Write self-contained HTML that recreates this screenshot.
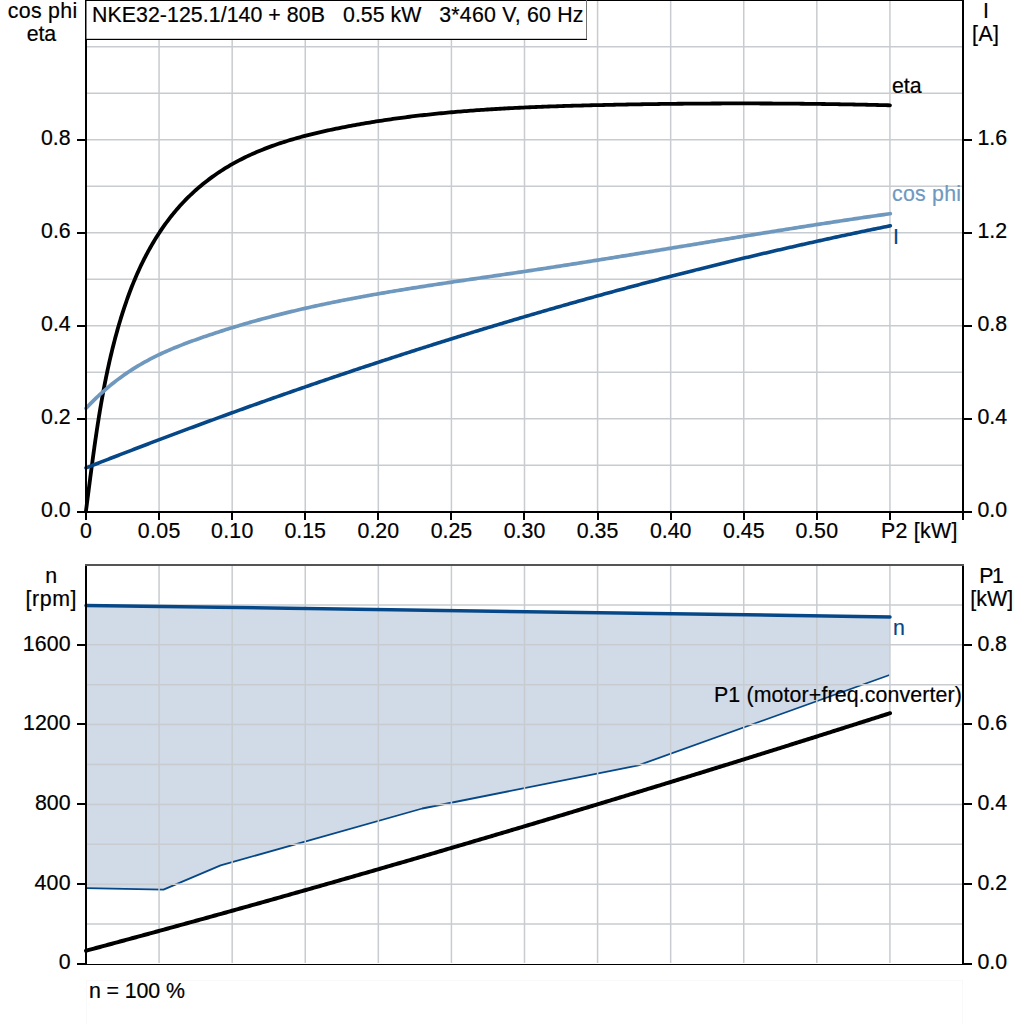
<!DOCTYPE html><html><head><meta charset="utf-8"><style>html,body{margin:0;padding:0;background:#fff;}svg{display:block;}text{font-family:"Liberation Sans",sans-serif;font-size:21.33px;}</style></head><body>
<svg width="1024" height="1024" viewBox="0 0 1024 1024">
<rect x="0" y="0" width="1024" height="1024" fill="#fff"/>
<rect x="86.5" y="980.5" width="876" height="50" fill="none" stroke="#f9f9f9" stroke-width="1"/>
<g stroke="#c8ccd0" stroke-width="1.5">
<line x1="159.08" y1="1" x2="159.08" y2="511"/>
<line x1="232.17" y1="1" x2="232.17" y2="511"/>
<line x1="305.25" y1="1" x2="305.25" y2="511"/>
<line x1="378.33" y1="1" x2="378.33" y2="511"/>
<line x1="451.42" y1="1" x2="451.42" y2="511"/>
<line x1="524.50" y1="1" x2="524.50" y2="511"/>
<line x1="597.58" y1="1" x2="597.58" y2="511"/>
<line x1="670.67" y1="1" x2="670.67" y2="511"/>
<line x1="743.75" y1="1" x2="743.75" y2="511"/>
<line x1="816.83" y1="1" x2="816.83" y2="511"/>
<line x1="889.92" y1="1" x2="889.92" y2="511"/>
<line x1="87" y1="465.25" x2="962" y2="465.25"/>
<line x1="87" y1="418.75" x2="962" y2="418.75"/>
<line x1="87" y1="372.25" x2="962" y2="372.25"/>
<line x1="87" y1="325.75" x2="962" y2="325.75"/>
<line x1="87" y1="279.25" x2="962" y2="279.25"/>
<line x1="87" y1="232.75" x2="962" y2="232.75"/>
<line x1="87" y1="186.25" x2="962" y2="186.25"/>
<line x1="87" y1="139.75" x2="962" y2="139.75"/>
<line x1="87" y1="93.25" x2="962" y2="93.25"/>
<line x1="87" y1="46.75" x2="962" y2="46.75"/>
</g>
<path d="M85.90,511.47 L86.17,509.37 L86.45,507.27 L86.72,505.17 L86.99,503.07 L87.26,500.96 L87.54,498.86 L87.81,496.76 L88.08,494.66 L88.35,492.55 L88.62,490.45 L88.89,488.35 L89.16,486.25 L89.43,484.14 L89.71,482.04 L89.98,479.94 L90.25,477.84 L90.52,475.73 L90.80,473.63 L91.08,471.53 L91.35,469.43 L91.63,467.33 L91.91,465.23 L92.19,463.13 L92.47,461.03 L92.76,458.93 L93.04,456.83 L93.33,454.73 L93.62,452.63 L93.91,450.53 L94.20,448.43 L94.49,446.33 L94.79,444.23 L95.09,442.14 L95.39,440.04 L95.69,437.94 L96.00,435.85 L96.31,433.75 L96.62,431.66 L96.94,429.56 L97.26,427.47 L97.58,425.38 L97.90,423.29 L98.23,421.19 L98.56,419.10 L98.89,417.01 L99.23,414.92 L99.57,412.83 L99.92,410.75 L100.27,408.66 L100.62,406.57 L100.98,404.49 L101.34,402.40 L101.71,400.32 L102.08,398.24 L102.45,396.15 L102.83,394.07 L103.21,391.99 L103.60,389.91 L104.00,387.84 L104.39,385.76 L104.80,383.68 L105.21,381.61 L105.62,379.53 L106.04,377.46 L106.47,375.39 L106.90,373.32 L107.33,371.25 L107.77,369.18 L108.22,367.11 L108.67,365.05 L109.13,362.98 L109.60,360.92 L110.07,358.86 L110.55,356.80 L111.03,354.74 L111.53,352.68 L112.02,350.62 L112.53,348.57 L113.04,346.51 L113.56,344.46 L114.08,342.41 L114.62,340.36 L115.15,338.31 L115.70,336.27 L116.26,334.22 L116.82,332.18 L117.39,330.13 L117.97,328.09 L118.55,326.05 L119.14,324.02 L119.74,321.98 L120.35,319.95 L120.97,317.92 L121.60,315.89 L122.23,313.86 L122.88,311.84 L123.53,309.81 L124.19,307.80 L124.87,305.78 L125.55,303.77 L126.24,301.76 L126.94,299.75 L127.65,297.75 L128.38,295.75 L129.11,293.76 L129.85,291.77 L130.61,289.78 L131.37,287.80 L132.15,285.82 L132.94,283.85 L133.74,281.88 L134.55,279.91 L135.38,277.96 L136.22,276.00 L137.07,274.06 L137.93,272.11 L138.80,270.18 L139.69,268.25 L140.59,266.32 L141.50,264.40 L142.43,262.49 L143.37,260.59 L144.33,258.69 L145.30,256.80 L146.28,254.91 L147.28,253.03 L148.29,251.16 L149.31,249.30 L150.35,247.45 L151.41,245.60 L152.48,243.76 L153.56,241.94 L154.66,240.12 L155.77,238.31 L156.90,236.51 L158.04,234.72 L159.20,232.94 L160.37,231.17 L161.55,229.41 L162.75,227.67 L163.97,225.93 L165.20,224.21 L166.45,222.50 L167.71,220.80 L168.99,219.11 L170.28,217.44 L171.58,215.78 L172.91,214.13 L174.25,212.50 L175.60,210.88 L176.97,209.27 L178.35,207.68 L179.75,206.10 L181.17,204.54 L182.60,202.99 L184.05,201.46 L185.52,199.94 L187.00,198.44 L188.49,196.96 L190.00,195.49 L191.53,194.04 L193.07,192.60 L194.63,191.18 L196.20,189.78 L197.78,188.39 L199.38,187.02 L200.99,185.67 L202.62,184.33 L204.26,183.01 L205.91,181.70 L207.58,180.41 L209.26,179.14 L210.95,177.89 L212.65,176.65 L214.37,175.43 L216.09,174.23 L217.83,173.04 L219.58,171.87 L221.35,170.72 L223.12,169.58 L224.90,168.47 L226.69,167.37 L228.50,166.28 L230.31,165.22 L232.14,164.17 L233.97,163.14 L235.81,162.13 L237.67,161.14 L239.53,160.16 L241.40,159.20 L243.28,158.25 L245.17,157.32 L247.06,156.41 L248.97,155.52 L250.88,154.64 L252.80,153.77 L254.73,152.92 L256.66,152.08 L258.61,151.26 L260.56,150.46 L262.51,149.66 L264.48,148.89 L266.45,148.12 L268.43,147.37 L270.41,146.63 L272.40,145.91 L274.40,145.20 L276.40,144.50 L278.41,143.81 L280.42,143.14 L282.44,142.48 L284.46,141.83 L286.49,141.19 L288.52,140.56 L290.56,139.94 L292.60,139.34 L294.65,138.74 L296.70,138.15 L298.75,137.58 L300.81,137.01 L302.87,136.46 L304.93,135.91 L307.00,135.38 L309.07,134.85 L311.15,134.33 L313.22,133.82 L315.30,133.32 L317.38,132.82 L319.46,132.34 L321.55,131.86 L323.64,131.38 L325.72,130.92 L327.81,130.46 L329.91,130.01 L332.00,129.57 L334.09,129.13 L336.18,128.70 L338.28,128.27 L340.37,127.85 L342.47,127.44 L344.56,127.03 L346.66,126.62 L348.76,126.22 L350.85,125.83 L352.95,125.44 L355.04,125.05 L357.14,124.68 L359.24,124.30 L361.33,123.93 L363.43,123.57 L365.53,123.21 L367.63,122.86 L369.73,122.51 L371.82,122.16 L373.92,121.82 L376.02,121.49 L378.12,121.16 L380.22,120.83 L382.32,120.51 L384.42,120.19 L386.52,119.88 L388.62,119.57 L390.72,119.27 L392.82,118.97 L394.92,118.68 L397.02,118.39 L399.12,118.10 L401.22,117.82 L403.32,117.55 L405.43,117.27 L407.53,117.00 L409.63,116.74 L411.73,116.48 L413.83,116.22 L415.94,115.97 L418.04,115.72 L420.14,115.48 L422.25,115.24 L424.35,115.00 L426.45,114.77 L428.56,114.54 L430.66,114.32 L432.77,114.09 L434.87,113.88 L436.98,113.66 L439.08,113.45 L441.19,113.24 L443.29,113.04 L445.40,112.84 L447.50,112.64 L449.61,112.45 L451.71,112.26 L453.82,112.08 L455.93,111.89 L458.03,111.71 L460.14,111.54 L462.25,111.36 L464.35,111.19 L466.46,111.02 L468.57,110.86 L470.68,110.70 L472.79,110.54 L474.89,110.39 L477.00,110.23 L479.11,110.08 L481.22,109.94 L483.33,109.79 L485.44,109.65 L487.55,109.51 L489.66,109.38 L491.77,109.25 L493.88,109.11 L495.99,108.99 L498.10,108.86 L500.21,108.74 L502.32,108.62 L504.43,108.50 L506.54,108.38 L508.65,108.27 L510.76,108.16 L512.87,108.05 L514.98,107.95 L517.10,107.84 L519.21,107.74 L521.32,107.64 L523.43,107.54 L525.54,107.45 L527.66,107.35 L529.77,107.26 L531.88,107.17 L534.00,107.08 L536.11,107.00 L538.22,106.91 L540.34,106.83 L542.45,106.75 L544.56,106.67 L546.68,106.59 L548.79,106.51 L550.91,106.44 L553.02,106.37 L555.14,106.30 L557.25,106.23 L559.37,106.16 L561.48,106.09 L563.60,106.02 L565.71,105.96 L567.83,105.90 L569.94,105.83 L572.06,105.77 L574.18,105.71 L576.29,105.66 L578.41,105.60 L580.53,105.54 L582.64,105.49 L584.76,105.43 L586.88,105.38 L588.99,105.33 L591.11,105.27 L593.23,105.22 L595.35,105.17 L597.46,105.12 L599.58,105.08 L601.70,105.03 L603.82,104.98 L605.94,104.93 L608.05,104.89 L610.17,104.84 L612.29,104.80 L614.41,104.75 L616.53,104.71 L618.65,104.67 L620.77,104.63 L622.89,104.59 L625.01,104.55 L627.13,104.51 L629.25,104.47 L631.37,104.43 L633.49,104.39 L635.61,104.36 L637.73,104.32 L639.85,104.28 L641.97,104.25 L644.09,104.22 L646.21,104.18 L648.33,104.15 L650.45,104.12 L652.57,104.09 L654.69,104.06 L656.81,104.03 L658.93,104.00 L661.05,103.97 L663.17,103.94 L665.29,103.92 L667.41,103.89 L669.54,103.87 L671.66,103.84 L673.78,103.82 L675.90,103.80 L678.02,103.77 L680.14,103.75 L682.26,103.73 L684.39,103.71 L686.51,103.69 L688.63,103.67 L690.75,103.65 L692.87,103.64 L694.99,103.62 L697.12,103.61 L699.24,103.59 L701.36,103.58 L703.48,103.56 L705.60,103.55 L707.72,103.54 L709.85,103.53 L711.97,103.52 L714.09,103.51 L716.21,103.50 L718.33,103.49 L720.46,103.48 L722.58,103.47 L724.70,103.47 L726.82,103.46 L728.94,103.46 L731.06,103.45 L733.19,103.45 L735.31,103.45 L737.43,103.45 L739.55,103.44 L741.67,103.44 L743.80,103.44 L745.92,103.45 L748.04,103.45 L750.16,103.45 L752.28,103.45 L754.40,103.46 L756.52,103.46 L758.65,103.47 L760.77,103.48 L762.89,103.48 L765.01,103.49 L767.13,103.50 L769.25,103.51 L771.37,103.52 L773.49,103.53 L775.61,103.54 L777.74,103.55 L779.86,103.57 L781.98,103.58 L784.10,103.60 L786.22,103.61 L788.34,103.63 L790.46,103.64 L792.58,103.66 L794.70,103.68 L796.82,103.70 L798.94,103.72 L801.06,103.74 L803.18,103.76 L805.30,103.78 L807.42,103.81 L809.54,103.83 L811.66,103.86 L813.78,103.88 L815.90,103.91 L818.01,103.93 L820.13,103.96 L822.25,103.99 L824.37,104.02 L826.49,104.05 L828.61,104.08 L830.73,104.11 L832.84,104.14 L834.96,104.18 L837.08,104.21 L839.20,104.24 L841.31,104.28 L843.43,104.32 L845.55,104.35 L847.67,104.39 L849.78,104.43 L851.90,104.47 L854.02,104.51 L856.13,104.55 L858.25,104.59 L860.37,104.63 L862.48,104.68 L864.60,104.72 L866.71,104.76 L868.83,104.81 L870.94,104.86 L873.06,104.90 L875.17,104.95 L877.29,105.00 L879.40,105.05 L881.52,105.10 L883.63,105.15 L885.74,105.20 L887.86,105.25 L889.97,105.31" fill="none" stroke="#000" stroke-width="3.8" stroke-linejoin="round" stroke-linecap="round"/>
<path d="M86.00,408.33 L88.00,406.21 L90.00,404.13 L92.00,402.09 L94.00,400.10 L96.00,398.16 L98.00,396.25 L100.00,394.39 L102.00,392.57 L104.00,390.78 L106.00,389.04 L108.00,387.34 L110.00,385.67 L112.00,384.04 L114.00,382.45 L116.00,380.89 L118.00,379.37 L120.00,377.89 L122.00,376.43 L124.00,375.01 L126.00,373.62 L128.00,372.27 L130.00,370.94 L132.00,369.64 L134.00,368.37 L136.00,367.14 L138.00,365.92 L140.00,364.74 L142.00,363.58 L144.00,362.45 L146.00,361.34 L148.00,360.26 L150.00,359.20 L152.00,358.16 L154.00,357.15 L156.00,356.15 L158.00,355.18 L160.00,354.23 L162.00,353.29 L164.00,352.38 L166.00,351.48 L168.00,350.60 L170.00,349.73 L172.00,348.88 L174.00,348.05 L176.00,347.23 L178.00,346.42 L180.00,345.63 L182.00,344.85 L184.00,344.08 L186.00,343.32 L188.00,342.57 L190.00,341.83 L192.00,341.10 L194.00,340.37 L196.00,339.66 L198.00,338.95 L200.00,338.24 L202.00,337.54 L204.00,336.85 L206.00,336.16 L208.00,335.48 L210.00,334.81 L212.00,334.14 L214.00,333.47 L216.00,332.81 L218.00,332.16 L220.00,331.51 L222.00,330.87 L224.00,330.23 L226.00,329.59 L228.00,328.97 L230.00,328.34 L232.00,327.73 L234.00,327.12 L236.00,326.51 L238.00,325.91 L240.00,325.31 L242.00,324.72 L244.00,324.13 L246.00,323.55 L248.00,322.97 L250.00,322.40 L252.00,321.83 L254.00,321.27 L256.00,320.71 L258.00,320.15 L260.00,319.60 L262.00,319.06 L264.00,318.52 L266.00,317.98 L268.00,317.45 L270.00,316.92 L272.00,316.40 L274.00,315.88 L276.00,315.37 L278.00,314.86 L280.00,314.35 L282.00,313.85 L284.00,313.35 L286.00,312.86 L288.00,312.37 L290.00,311.89 L292.00,311.40 L294.00,310.93 L296.00,310.45 L298.00,309.98 L300.00,309.52 L302.00,309.05 L304.00,308.59 L306.00,308.14 L308.00,307.69 L310.00,307.24 L312.00,306.80 L314.00,306.35 L316.00,305.92 L318.00,305.48 L320.00,305.05 L322.00,304.62 L324.00,304.20 L326.00,303.78 L328.00,303.36 L330.00,302.95 L332.00,302.54 L334.00,302.13 L336.00,301.72 L338.00,301.32 L340.00,300.92 L342.00,300.53 L344.00,300.13 L346.00,299.74 L348.00,299.35 L350.00,298.97 L352.00,298.59 L354.00,298.21 L356.00,297.83 L358.00,297.46 L360.00,297.08 L362.00,296.71 L364.00,296.35 L366.00,295.98 L368.00,295.62 L370.00,295.26 L372.00,294.91 L374.00,294.55 L376.00,294.20 L378.00,293.85 L380.00,293.50 L382.00,293.15 L384.00,292.81 L386.00,292.47 L388.00,292.13 L390.00,291.79 L392.00,291.45 L394.00,291.12 L396.00,290.79 L398.00,290.46 L400.00,290.13 L402.00,289.80 L404.00,289.48 L406.00,289.15 L408.00,288.83 L410.00,288.51 L412.00,288.19 L414.00,287.87 L416.00,287.56 L418.00,287.24 L420.00,286.93 L422.00,286.62 L424.00,286.31 L426.00,286.00 L428.00,285.69 L430.00,285.38 L432.00,285.08 L434.00,284.77 L436.00,284.47 L438.00,284.17 L440.00,283.86 L442.00,283.56 L444.00,283.26 L446.00,282.96 L448.00,282.67 L450.00,282.37 L452.00,282.07 L454.00,281.78 L456.00,281.48 L458.00,281.19 L460.00,280.89 L462.00,280.60 L464.00,280.30 L466.00,280.01 L468.00,279.72 L470.00,279.43 L472.00,279.14 L474.00,278.84 L476.00,278.55 L478.00,278.26 L480.00,277.97 L482.00,277.68 L484.00,277.39 L486.00,277.10 L488.00,276.81 L490.00,276.52 L492.00,276.23 L494.00,275.94 L496.00,275.65 L498.00,275.35 L500.00,275.06 L502.00,274.77 L504.00,274.48 L506.00,274.19 L508.00,273.89 L510.00,273.60 L512.00,273.31 L514.00,273.01 L516.00,272.72 L518.00,272.42 L520.00,272.13 L522.00,271.83 L524.00,271.53 L526.00,271.23 L528.00,270.94 L530.00,270.64 L532.00,270.34 L534.00,270.03 L536.00,269.73 L538.00,269.43 L540.00,269.13 L542.00,268.82 L544.00,268.52 L546.00,268.21 L548.00,267.91 L550.00,267.60 L552.00,267.29 L554.00,266.98 L556.00,266.68 L558.00,266.37 L560.00,266.06 L562.00,265.75 L564.00,265.44 L566.00,265.12 L568.00,264.81 L570.00,264.50 L572.00,264.19 L574.00,263.87 L576.00,263.56 L578.00,263.24 L580.00,262.93 L582.00,262.61 L584.00,262.29 L586.00,261.98 L588.00,261.66 L590.00,261.34 L592.00,261.02 L594.00,260.70 L596.00,260.39 L598.00,260.07 L600.00,259.75 L602.00,259.43 L604.00,259.10 L606.00,258.78 L608.00,258.46 L610.00,258.14 L612.00,257.82 L614.00,257.49 L616.00,257.17 L618.00,256.85 L620.00,256.52 L622.00,256.20 L624.00,255.87 L626.00,255.55 L628.00,255.22 L630.00,254.90 L632.00,254.57 L634.00,254.25 L636.00,253.92 L638.00,253.59 L640.00,253.27 L642.00,252.94 L644.00,252.61 L646.00,252.29 L648.00,251.96 L650.00,251.63 L652.00,251.30 L654.00,250.98 L656.00,250.65 L658.00,250.32 L660.00,249.99 L662.00,249.66 L664.00,249.33 L666.00,249.00 L668.00,248.67 L670.00,248.35 L672.00,248.02 L674.00,247.69 L676.00,247.36 L678.00,247.03 L680.00,246.70 L682.00,246.37 L684.00,246.04 L686.00,245.71 L688.00,245.38 L690.00,245.05 L692.00,244.72 L694.00,244.39 L696.00,244.06 L698.00,243.73 L700.00,243.40 L702.00,243.08 L704.00,242.75 L706.00,242.42 L708.00,242.09 L710.00,241.76 L712.00,241.43 L714.00,241.10 L716.00,240.77 L718.00,240.44 L720.00,240.12 L722.00,239.79 L724.00,239.46 L726.00,239.13 L728.00,238.80 L730.00,238.48 L732.00,238.15 L734.00,237.82 L736.00,237.49 L738.00,237.17 L740.00,236.84 L742.00,236.51 L744.00,236.19 L746.00,235.86 L748.00,235.54 L750.00,235.21 L752.00,234.89 L754.00,234.56 L756.00,234.24 L758.00,233.91 L760.00,233.59 L762.00,233.27 L764.00,232.94 L766.00,232.62 L768.00,232.30 L770.00,231.98 L772.00,231.66 L774.00,231.34 L776.00,231.02 L778.00,230.70 L780.00,230.38 L782.00,230.06 L784.00,229.74 L786.00,229.42 L788.00,229.10 L790.00,228.78 L792.00,228.47 L794.00,228.15 L796.00,227.83 L798.00,227.52 L800.00,227.20 L802.00,226.89 L804.00,226.57 L806.00,226.26 L808.00,225.95 L810.00,225.64 L812.00,225.32 L814.00,225.01 L816.00,224.70 L818.00,224.39 L820.00,224.08 L822.00,223.77 L824.00,223.47 L826.00,223.16 L828.00,222.85 L830.00,222.55 L832.00,222.24 L834.00,221.94 L836.00,221.63 L838.00,221.33 L840.00,221.03 L842.00,220.72 L844.00,220.42 L846.00,220.12 L848.00,219.82 L850.00,219.52 L852.00,219.22 L854.00,218.93 L856.00,218.63 L858.00,218.33 L860.00,218.04 L862.00,217.74 L864.00,217.45 L866.00,217.16 L868.00,216.87 L870.00,216.58 L872.00,216.29 L874.00,216.00 L876.00,215.71 L878.00,215.42 L880.00,215.13 L882.00,214.85 L884.00,214.56 L886.00,214.28 L888.00,214.00 L890.00,213.71 L890.30,213.67" fill="none" stroke="#6f98bf" stroke-width="3.7" stroke-linejoin="round" stroke-linecap="round"/>
<path d="M86.00,467.93 L88.00,467.14 L90.00,466.36 L92.00,465.57 L94.00,464.79 L96.00,464.01 L98.00,463.22 L100.00,462.44 L102.00,461.66 L104.00,460.88 L106.00,460.10 L108.00,459.33 L110.00,458.55 L112.00,457.77 L114.00,457.00 L116.00,456.22 L118.00,455.45 L120.00,454.68 L122.00,453.91 L124.00,453.14 L126.00,452.37 L128.00,451.60 L130.00,450.83 L132.00,450.06 L134.00,449.29 L136.00,448.53 L138.00,447.76 L140.00,447.00 L142.00,446.24 L144.00,445.47 L146.00,444.71 L148.00,443.95 L150.00,443.19 L152.00,442.43 L154.00,441.68 L156.00,440.92 L158.00,440.16 L160.00,439.41 L162.00,438.65 L164.00,437.90 L166.00,437.15 L168.00,436.39 L170.00,435.64 L172.00,434.89 L174.00,434.14 L176.00,433.39 L178.00,432.65 L180.00,431.90 L182.00,431.15 L184.00,430.41 L186.00,429.67 L188.00,428.92 L190.00,428.18 L192.00,427.44 L194.00,426.70 L196.00,425.96 L198.00,425.22 L200.00,424.48 L202.00,423.74 L204.00,423.01 L206.00,422.27 L208.00,421.54 L210.00,420.80 L212.00,420.07 L214.00,419.34 L216.00,418.61 L218.00,417.88 L220.00,417.15 L222.00,416.42 L224.00,415.69 L226.00,414.97 L228.00,414.24 L230.00,413.52 L232.00,412.79 L234.00,412.07 L236.00,411.35 L238.00,410.63 L240.00,409.91 L242.00,409.19 L244.00,408.47 L246.00,407.75 L248.00,407.03 L250.00,406.32 L252.00,405.60 L254.00,404.89 L256.00,404.18 L258.00,403.46 L260.00,402.75 L262.00,402.04 L264.00,401.33 L266.00,400.62 L268.00,399.91 L270.00,399.21 L272.00,398.50 L274.00,397.80 L276.00,397.09 L278.00,396.39 L280.00,395.69 L282.00,394.98 L284.00,394.28 L286.00,393.58 L288.00,392.88 L290.00,392.19 L292.00,391.49 L294.00,390.79 L296.00,390.10 L298.00,389.40 L300.00,388.71 L302.00,388.02 L304.00,387.33 L306.00,386.64 L308.00,385.95 L310.00,385.26 L312.00,384.57 L314.00,383.88 L316.00,383.19 L318.00,382.51 L320.00,381.82 L322.00,381.14 L324.00,380.46 L326.00,379.78 L328.00,379.10 L330.00,378.42 L332.00,377.74 L334.00,377.06 L336.00,376.38 L338.00,375.71 L340.00,375.03 L342.00,374.36 L344.00,373.68 L346.00,373.01 L348.00,372.34 L350.00,371.67 L352.00,371.00 L354.00,370.33 L356.00,369.66 L358.00,368.99 L360.00,368.33 L362.00,367.66 L364.00,367.00 L366.00,366.33 L368.00,365.67 L370.00,365.01 L372.00,364.35 L374.00,363.69 L376.00,363.03 L378.00,362.37 L380.00,361.72 L382.00,361.06 L384.00,360.40 L386.00,359.75 L388.00,359.10 L390.00,358.45 L392.00,357.79 L394.00,357.14 L396.00,356.49 L398.00,355.85 L400.00,355.20 L402.00,354.55 L404.00,353.90 L406.00,353.26 L408.00,352.62 L410.00,351.97 L412.00,351.33 L414.00,350.69 L416.00,350.05 L418.00,349.41 L420.00,348.77 L422.00,348.13 L424.00,347.50 L426.00,346.86 L428.00,346.23 L430.00,345.59 L432.00,344.96 L434.00,344.33 L436.00,343.70 L438.00,343.07 L440.00,342.44 L442.00,341.81 L444.00,341.18 L446.00,340.56 L448.00,339.93 L450.00,339.31 L452.00,338.69 L454.00,338.06 L456.00,337.44 L458.00,336.82 L460.00,336.20 L462.00,335.58 L464.00,334.97 L466.00,334.35 L468.00,333.73 L470.00,333.12 L472.00,332.50 L474.00,331.89 L476.00,331.28 L478.00,330.67 L480.00,330.06 L482.00,329.45 L484.00,328.84 L486.00,328.23 L488.00,327.63 L490.00,327.02 L492.00,326.42 L494.00,325.81 L496.00,325.21 L498.00,324.61 L500.00,324.01 L502.00,323.41 L504.00,322.81 L506.00,322.21 L508.00,321.62 L510.00,321.02 L512.00,320.43 L514.00,319.83 L516.00,319.24 L518.00,318.65 L520.00,318.06 L522.00,317.47 L524.00,316.88 L526.00,316.29 L528.00,315.70 L530.00,315.12 L532.00,314.53 L534.00,313.95 L536.00,313.36 L538.00,312.78 L540.00,312.20 L542.00,311.62 L544.00,311.04 L546.00,310.46 L548.00,309.89 L550.00,309.31 L552.00,308.73 L554.00,308.16 L556.00,307.59 L558.00,307.01 L560.00,306.44 L562.00,305.87 L564.00,305.30 L566.00,304.73 L568.00,304.16 L570.00,303.60 L572.00,303.03 L574.00,302.47 L576.00,301.90 L578.00,301.34 L580.00,300.78 L582.00,300.22 L584.00,299.66 L586.00,299.10 L588.00,298.54 L590.00,297.98 L592.00,297.43 L594.00,296.87 L596.00,296.32 L598.00,295.77 L600.00,295.21 L602.00,294.66 L604.00,294.11 L606.00,293.56 L608.00,293.02 L610.00,292.47 L612.00,291.92 L614.00,291.38 L616.00,290.83 L618.00,290.29 L620.00,289.75 L622.00,289.21 L624.00,288.67 L626.00,288.13 L628.00,287.59 L630.00,287.05 L632.00,286.52 L634.00,285.98 L636.00,285.45 L638.00,284.91 L640.00,284.38 L642.00,283.85 L644.00,283.32 L646.00,282.79 L648.00,282.26 L650.00,281.74 L652.00,281.21 L654.00,280.68 L656.00,280.16 L658.00,279.64 L660.00,279.11 L662.00,278.59 L664.00,278.07 L666.00,277.55 L668.00,277.03 L670.00,276.52 L672.00,276.00 L674.00,275.49 L676.00,274.97 L678.00,274.46 L680.00,273.95 L682.00,273.44 L684.00,272.92 L686.00,272.42 L688.00,271.91 L690.00,271.40 L692.00,270.89 L694.00,270.39 L696.00,269.88 L698.00,269.38 L700.00,268.88 L702.00,268.38 L704.00,267.88 L706.00,267.38 L708.00,266.88 L710.00,266.38 L712.00,265.89 L714.00,265.39 L716.00,264.90 L718.00,264.41 L720.00,263.91 L722.00,263.42 L724.00,262.93 L726.00,262.44 L728.00,261.96 L730.00,261.47 L732.00,260.98 L734.00,260.50 L736.00,260.01 L738.00,259.53 L740.00,259.05 L742.00,258.57 L744.00,258.09 L746.00,257.61 L748.00,257.13 L750.00,256.66 L752.00,256.18 L754.00,255.70 L756.00,255.23 L758.00,254.76 L760.00,254.29 L762.00,253.82 L764.00,253.35 L766.00,252.88 L768.00,252.41 L770.00,251.94 L772.00,251.48 L774.00,251.01 L776.00,250.55 L778.00,250.09 L780.00,249.63 L782.00,249.17 L784.00,248.71 L786.00,248.25 L788.00,247.79 L790.00,247.34 L792.00,246.88 L794.00,246.43 L796.00,245.97 L798.00,245.52 L800.00,245.07 L802.00,244.62 L804.00,244.17 L806.00,243.72 L808.00,243.28 L810.00,242.83 L812.00,242.39 L814.00,241.94 L816.00,241.50 L818.00,241.06 L820.00,240.62 L822.00,240.18 L824.00,239.74 L826.00,239.30 L828.00,238.87 L830.00,238.43 L832.00,238.00 L834.00,237.56 L836.00,237.13 L838.00,236.70 L840.00,236.27 L842.00,235.84 L844.00,235.41 L846.00,234.99 L848.00,234.56 L850.00,234.14 L852.00,233.71 L854.00,233.29 L856.00,232.87 L858.00,232.45 L860.00,232.03 L862.00,231.61 L864.00,231.19 L866.00,230.77 L868.00,230.36 L870.00,229.94 L872.00,229.53 L874.00,229.12 L876.00,228.71 L878.00,228.30 L880.00,227.89 L882.00,227.48 L884.00,227.07 L886.00,226.67 L888.00,226.26 L890.00,225.86 L890.30,225.80" fill="none" stroke="#064788" stroke-width="3.6" stroke-linejoin="round" stroke-linecap="round"/>
<g shape-rendering="crispEdges" fill="#000">
<rect x="85" y="0" width="2" height="520"/>
<rect x="962" y="0" width="2" height="520"/>
<rect x="77" y="511" width="887" height="2"/>
<rect x="85" y="0" width="879" height="1"/>
<rect x="77" y="511" width="9" height="2"/>
<rect x="963" y="511" width="9" height="2"/>
<rect x="77" y="418" width="9" height="2"/>
<rect x="963" y="418" width="9" height="2"/>
<rect x="77" y="325" width="9" height="2"/>
<rect x="963" y="325" width="9" height="2"/>
<rect x="77" y="232" width="9" height="2"/>
<rect x="963" y="232" width="9" height="2"/>
<rect x="77" y="139" width="9" height="2"/>
<rect x="963" y="139" width="9" height="2"/>
<rect x="85" y="511" width="2" height="9"/>
<rect x="158" y="511" width="2" height="9"/>
<rect x="231" y="511" width="2" height="9"/>
<rect x="304" y="511" width="2" height="9"/>
<rect x="377" y="511" width="2" height="9"/>
<rect x="450" y="511" width="2" height="9"/>
<rect x="523" y="511" width="2" height="9"/>
<rect x="597" y="511" width="2" height="9"/>
<rect x="670" y="511" width="2" height="9"/>
<rect x="743" y="511" width="2" height="9"/>
<rect x="816" y="511" width="2" height="9"/>
<rect x="889" y="511" width="2" height="9"/>
<rect x="962" y="511" width="2" height="9"/>
</g>
<rect x="86.5" y="1" width="499.5" height="38" fill="#fff"/>
<rect x="85" y="38.8" width="502" height="1.2" fill="#000"/>
<rect x="586" y="0" width="1" height="39" fill="#777"/>
<polygon points="86,607 890,618.4 889.5,675 638.4,765.3 422.3,808.5 220.6,865.4 163.5,889.7 86,888.1" fill="#d0dbe7"/>
<polyline points="86,888.1 163.5,889.7 220.6,865.4 422.3,808.5 638.4,765.3 889.5,675" fill="none" stroke="#064788" stroke-width="1.8" stroke-linejoin="round"/>
<g stroke="#c8ccd0" stroke-width="1.5">
<line x1="159.08" y1="566" x2="159.08" y2="963"/>
<line x1="232.17" y1="566" x2="232.17" y2="963"/>
<line x1="305.25" y1="566" x2="305.25" y2="963"/>
<line x1="378.33" y1="566" x2="378.33" y2="963"/>
<line x1="451.42" y1="566" x2="451.42" y2="963"/>
<line x1="524.50" y1="566" x2="524.50" y2="963"/>
<line x1="597.58" y1="566" x2="597.58" y2="963"/>
<line x1="670.67" y1="566" x2="670.67" y2="963"/>
<line x1="743.75" y1="566" x2="743.75" y2="963"/>
<line x1="816.83" y1="566" x2="816.83" y2="963"/>
<line x1="889.92" y1="566" x2="889.92" y2="963"/>
<line x1="87" y1="924.10" x2="962" y2="924.10"/>
<line x1="87" y1="884.20" x2="962" y2="884.20"/>
<line x1="87" y1="844.30" x2="962" y2="844.30"/>
<line x1="87" y1="804.40" x2="962" y2="804.40"/>
<line x1="87" y1="764.50" x2="962" y2="764.50"/>
<line x1="87" y1="724.60" x2="962" y2="724.60"/>
<line x1="87" y1="684.70" x2="962" y2="684.70"/>
<line x1="87" y1="644.80" x2="962" y2="644.80"/>
<line x1="87" y1="604.90" x2="962" y2="604.90"/>
</g>
<path d="M86.00,950.71 L88.00,950.17 L90.00,949.64 L92.00,949.10 L94.00,948.56 L96.00,948.03 L98.00,947.49 L100.00,946.95 L102.00,946.41 L104.00,945.87 L106.00,945.33 L108.00,944.79 L110.00,944.26 L112.00,943.72 L114.00,943.18 L116.00,942.63 L118.00,942.09 L120.00,941.55 L122.00,941.01 L124.00,940.47 L126.00,939.93 L128.00,939.39 L130.00,938.84 L132.00,938.30 L134.00,937.76 L136.00,937.21 L138.00,936.67 L140.00,936.13 L142.00,935.58 L144.00,935.04 L146.00,934.49 L148.00,933.95 L150.00,933.40 L152.00,932.85 L154.00,932.31 L156.00,931.76 L158.00,931.22 L160.00,930.67 L162.00,930.12 L164.00,929.57 L166.00,929.03 L168.00,928.48 L170.00,927.93 L172.00,927.38 L174.00,926.83 L176.00,926.28 L178.00,925.73 L180.00,925.18 L182.00,924.63 L184.00,924.08 L186.00,923.53 L188.00,922.98 L190.00,922.43 L192.00,921.88 L194.00,921.32 L196.00,920.77 L198.00,920.22 L200.00,919.67 L202.00,919.11 L204.00,918.56 L206.00,918.01 L208.00,917.45 L210.00,916.90 L212.00,916.34 L214.00,915.79 L216.00,915.23 L218.00,914.68 L220.00,914.12 L222.00,913.57 L224.00,913.01 L226.00,912.45 L228.00,911.90 L230.00,911.34 L232.00,910.78 L234.00,910.22 L236.00,909.67 L238.00,909.11 L240.00,908.55 L242.00,907.99 L244.00,907.43 L246.00,906.87 L248.00,906.31 L250.00,905.75 L252.00,905.19 L254.00,904.63 L256.00,904.07 L258.00,903.51 L260.00,902.95 L262.00,902.39 L264.00,901.83 L266.00,901.26 L268.00,900.70 L270.00,900.14 L272.00,899.57 L274.00,899.01 L276.00,898.45 L278.00,897.88 L280.00,897.32 L282.00,896.75 L284.00,896.19 L286.00,895.62 L288.00,895.06 L290.00,894.49 L292.00,893.93 L294.00,893.36 L296.00,892.80 L298.00,892.23 L300.00,891.66 L302.00,891.09 L304.00,890.53 L306.00,889.96 L308.00,889.39 L310.00,888.82 L312.00,888.25 L314.00,887.68 L316.00,887.12 L318.00,886.55 L320.00,885.98 L322.00,885.41 L324.00,884.84 L326.00,884.26 L328.00,883.69 L330.00,883.12 L332.00,882.55 L334.00,881.98 L336.00,881.41 L338.00,880.84 L340.00,880.26 L342.00,879.69 L344.00,879.12 L346.00,878.54 L348.00,877.97 L350.00,877.40 L352.00,876.82 L354.00,876.25 L356.00,875.67 L358.00,875.10 L360.00,874.52 L362.00,873.95 L364.00,873.37 L366.00,872.80 L368.00,872.22 L370.00,871.64 L372.00,871.07 L374.00,870.49 L376.00,869.91 L378.00,869.33 L380.00,868.76 L382.00,868.18 L384.00,867.60 L386.00,867.02 L388.00,866.44 L390.00,865.86 L392.00,865.28 L394.00,864.70 L396.00,864.12 L398.00,863.54 L400.00,862.96 L402.00,862.38 L404.00,861.80 L406.00,861.22 L408.00,860.64 L410.00,860.05 L412.00,859.47 L414.00,858.89 L416.00,858.31 L418.00,857.72 L420.00,857.14 L422.00,856.56 L424.00,855.97 L426.00,855.39 L428.00,854.80 L430.00,854.22 L432.00,853.63 L434.00,853.05 L436.00,852.46 L438.00,851.88 L440.00,851.29 L442.00,850.71 L444.00,850.12 L446.00,849.53 L448.00,848.95 L450.00,848.36 L452.00,847.77 L454.00,847.18 L456.00,846.60 L458.00,846.01 L460.00,845.42 L462.00,844.83 L464.00,844.24 L466.00,843.65 L468.00,843.06 L470.00,842.47 L472.00,841.88 L474.00,841.29 L476.00,840.70 L478.00,840.11 L480.00,839.52 L482.00,838.93 L484.00,838.34 L486.00,837.74 L488.00,837.15 L490.00,836.56 L492.00,835.97 L494.00,835.37 L496.00,834.78 L498.00,834.19 L500.00,833.59 L502.00,833.00 L504.00,832.40 L506.00,831.81 L508.00,831.22 L510.00,830.62 L512.00,830.03 L514.00,829.43 L516.00,828.83 L518.00,828.24 L520.00,827.64 L522.00,827.05 L524.00,826.45 L526.00,825.85 L528.00,825.25 L530.00,824.66 L532.00,824.06 L534.00,823.46 L536.00,822.86 L538.00,822.26 L540.00,821.67 L542.00,821.07 L544.00,820.47 L546.00,819.87 L548.00,819.27 L550.00,818.67 L552.00,818.07 L554.00,817.47 L556.00,816.87 L558.00,816.26 L560.00,815.66 L562.00,815.06 L564.00,814.46 L566.00,813.86 L568.00,813.26 L570.00,812.65 L572.00,812.05 L574.00,811.45 L576.00,810.84 L578.00,810.24 L580.00,809.64 L582.00,809.03 L584.00,808.43 L586.00,807.82 L588.00,807.22 L590.00,806.61 L592.00,806.01 L594.00,805.40 L596.00,804.80 L598.00,804.19 L600.00,803.59 L602.00,802.98 L604.00,802.37 L606.00,801.77 L608.00,801.16 L610.00,800.55 L612.00,799.94 L614.00,799.34 L616.00,798.73 L618.00,798.12 L620.00,797.51 L622.00,796.90 L624.00,796.29 L626.00,795.68 L628.00,795.07 L630.00,794.46 L632.00,793.85 L634.00,793.24 L636.00,792.63 L638.00,792.02 L640.00,791.41 L642.00,790.80 L644.00,790.19 L646.00,789.58 L648.00,788.96 L650.00,788.35 L652.00,787.74 L654.00,787.13 L656.00,786.51 L658.00,785.90 L660.00,785.29 L662.00,784.67 L664.00,784.06 L666.00,783.44 L668.00,782.83 L670.00,782.22 L672.00,781.60 L674.00,780.99 L676.00,780.37 L678.00,779.75 L680.00,779.14 L682.00,778.52 L684.00,777.91 L686.00,777.29 L688.00,776.67 L690.00,776.06 L692.00,775.44 L694.00,774.82 L696.00,774.20 L698.00,773.59 L700.00,772.97 L702.00,772.35 L704.00,771.73 L706.00,771.11 L708.00,770.49 L710.00,769.87 L712.00,769.25 L714.00,768.63 L716.00,768.01 L718.00,767.39 L720.00,766.77 L722.00,766.15 L724.00,765.53 L726.00,764.91 L728.00,764.29 L730.00,763.67 L732.00,763.05 L734.00,762.42 L736.00,761.80 L738.00,761.18 L740.00,760.56 L742.00,759.93 L744.00,759.31 L746.00,758.69 L748.00,758.06 L750.00,757.44 L752.00,756.81 L754.00,756.19 L756.00,755.56 L758.00,754.94 L760.00,754.31 L762.00,753.69 L764.00,753.06 L766.00,752.44 L768.00,751.81 L770.00,751.19 L772.00,750.56 L774.00,749.93 L776.00,749.31 L778.00,748.68 L780.00,748.05 L782.00,747.42 L784.00,746.80 L786.00,746.17 L788.00,745.54 L790.00,744.91 L792.00,744.28 L794.00,743.65 L796.00,743.02 L798.00,742.40 L800.00,741.77 L802.00,741.14 L804.00,740.51 L806.00,739.88 L808.00,739.25 L810.00,738.61 L812.00,737.98 L814.00,737.35 L816.00,736.72 L818.00,736.09 L820.00,735.46 L822.00,734.83 L824.00,734.19 L826.00,733.56 L828.00,732.93 L830.00,732.30 L832.00,731.66 L834.00,731.03 L836.00,730.40 L838.00,729.76 L840.00,729.13 L842.00,728.49 L844.00,727.86 L846.00,727.22 L848.00,726.59 L850.00,725.95 L852.00,725.32 L854.00,724.68 L856.00,724.05 L858.00,723.41 L860.00,722.78 L862.00,722.14 L864.00,721.50 L866.00,720.87 L868.00,720.23 L870.00,719.59 L872.00,718.96 L874.00,718.32 L876.00,717.68 L878.00,717.04 L880.00,716.40 L882.00,715.76 L884.00,715.13 L886.00,714.49 L888.00,713.85 L890.00,713.21" fill="none" stroke="#000" stroke-width="4" stroke-linecap="round"/>
<polyline points="86,605.4 890,616.9" fill="none" stroke="#064788" stroke-width="3.5" stroke-linecap="round"/>
<g shape-rendering="crispEdges" fill="#000">
<rect x="85" y="564" width="2" height="401"/>
<rect x="962" y="564" width="2" height="401"/>
<rect x="77" y="963.5" width="887" height="1.3"/>
<rect x="85" y="564.2" width="879" height="1.6" fill="#555"/>
<rect x="77" y="963" width="9" height="2"/>
<rect x="963" y="963" width="9" height="2"/>
<rect x="77" y="883" width="9" height="2"/>
<rect x="963" y="883" width="9" height="2"/>
<rect x="77" y="803" width="9" height="2"/>
<rect x="963" y="803" width="9" height="2"/>
<rect x="77" y="723" width="9" height="2"/>
<rect x="963" y="723" width="9" height="2"/>
<rect x="77" y="644" width="9" height="2"/>
<rect x="963" y="644" width="9" height="2"/>
</g>
<text id="title1" x="92" y="21.6" fill="#000" stroke="#000" stroke-width="0.2" textLength="232.93" lengthAdjust="spacing" xml:space="preserve">NKE32-125.1/140 + 80B</text>
<text id="title2" x="343" y="21.6" fill="#000" stroke="#000" stroke-width="0.2" textLength="78.43" lengthAdjust="spacing" xml:space="preserve">0.55 kW</text>
<text id="title3" x="439.3" y="21.6" fill="#000" stroke="#000" stroke-width="0.2" textLength="144.12" lengthAdjust="spacing" xml:space="preserve">3*460 V, 60 Hz</text>
<text id="cosphi_tl" x="42.5" y="18" text-anchor="middle" fill="#000" stroke="#000" stroke-width="0.2" textLength="69.38" lengthAdjust="spacing" xml:space="preserve">cos phi</text>
<text id="eta_tl" x="41.5" y="40.9" text-anchor="middle" fill="#000" stroke="#000" stroke-width="0.2" textLength="29.26" lengthAdjust="spacing" xml:space="preserve">eta</text>
<text id="I_tr" x="986" y="17.8" text-anchor="middle" fill="#000" stroke="#000" stroke-width="0.2" xml:space="preserve">I</text>
<text id="A_tr" x="985.5" y="40.5" text-anchor="middle" fill="#000" stroke="#000" stroke-width="0.2" textLength="26.83" lengthAdjust="spacing" xml:space="preserve">[A]</text>
<text id="tl0" x="70.7" y="516.8" text-anchor="end" fill="#000" stroke="#000" stroke-width="0.2" xml:space="preserve">0.0</text>
<text id="tr0" x="977.5" y="517.4" fill="#000" stroke="#000" stroke-width="0.2" xml:space="preserve">0.0</text>
<text id="tl1" x="70.7" y="423.8" text-anchor="end" fill="#000" stroke="#000" stroke-width="0.2" xml:space="preserve">0.2</text>
<text id="tr1" x="977.5" y="423.8" fill="#000" stroke="#000" stroke-width="0.2" xml:space="preserve">0.4</text>
<text id="tl2" x="70.7" y="330.8" text-anchor="end" fill="#000" stroke="#000" stroke-width="0.2" xml:space="preserve">0.4</text>
<text id="tr2" x="977.5" y="330.8" fill="#000" stroke="#000" stroke-width="0.2" xml:space="preserve">0.8</text>
<text id="tl3" x="70.7" y="237.8" text-anchor="end" fill="#000" stroke="#000" stroke-width="0.2" xml:space="preserve">0.6</text>
<text id="tr3" x="977.5" y="237.8" fill="#000" stroke="#000" stroke-width="0.2" xml:space="preserve">1.2</text>
<text id="tl4" x="70.7" y="144.8" text-anchor="end" fill="#000" stroke="#000" stroke-width="0.2" textLength="29.76" lengthAdjust="spacing" xml:space="preserve">0.8</text>
<text id="tr4" x="977.5" y="144.8" fill="#000" stroke="#000" stroke-width="0.2" textLength="29.56" lengthAdjust="spacing" xml:space="preserve">1.6</text>
<text id="x0" x="86.0" y="537.5" text-anchor="middle" fill="#000" stroke="#000" stroke-width="0.2" xml:space="preserve">0</text>
<text id="x1" x="159.1" y="537.5" text-anchor="middle" fill="#000" stroke="#000" stroke-width="0.2" textLength="42.62" lengthAdjust="spacing" xml:space="preserve">0.05</text>
<text id="x2" x="232.2" y="537.5" text-anchor="middle" fill="#000" stroke="#000" stroke-width="0.2" textLength="42.32" lengthAdjust="spacing" xml:space="preserve">0.10</text>
<text id="x3" x="305.2" y="537.5" text-anchor="middle" fill="#000" stroke="#000" stroke-width="0.2" xml:space="preserve">0.15</text>
<text id="x4" x="378.3" y="537.5" text-anchor="middle" fill="#000" stroke="#000" stroke-width="0.2" xml:space="preserve">0.20</text>
<text id="x5" x="451.4" y="537.5" text-anchor="middle" fill="#000" stroke="#000" stroke-width="0.2" xml:space="preserve">0.25</text>
<text id="x6" x="524.5" y="537.5" text-anchor="middle" fill="#000" stroke="#000" stroke-width="0.2" xml:space="preserve">0.30</text>
<text id="x7" x="597.6" y="537.5" text-anchor="middle" fill="#000" stroke="#000" stroke-width="0.2" xml:space="preserve">0.35</text>
<text id="x8" x="670.7" y="537.5" text-anchor="middle" fill="#000" stroke="#000" stroke-width="0.2" xml:space="preserve">0.40</text>
<text id="x9" x="743.8" y="537.5" text-anchor="middle" fill="#000" stroke="#000" stroke-width="0.2" xml:space="preserve">0.45</text>
<text id="x10" x="816.8" y="537.5" text-anchor="middle" fill="#000" stroke="#000" stroke-width="0.2" textLength="42.72" lengthAdjust="spacing" xml:space="preserve">0.50</text>
<text id="P2" x="881" y="537.5" fill="#000" stroke="#000" stroke-width="0.2" textLength="76.37" lengthAdjust="spacing" xml:space="preserve">P2 [kW]</text>
<text id="eta_lbl" x="892" y="92.8" fill="#000" stroke="#000" stroke-width="0.2" xml:space="preserve">eta</text>
<text id="cosphi_lbl" x="892" y="200.7" fill="#6f98bf" stroke="#6f98bf" stroke-width="0.2" textLength="68.98" lengthAdjust="spacing" xml:space="preserve">cos phi</text>
<text id="I_lbl" x="893" y="244" fill="#064788" stroke="#064788" stroke-width="0.2" xml:space="preserve">I</text>
<text id="n_bl" x="51.2" y="582.9" text-anchor="middle" fill="#000" stroke="#000" stroke-width="0.2" xml:space="preserve">n</text>
<text id="rpm" x="51" y="606" text-anchor="middle" fill="#000" stroke="#000" stroke-width="0.2" textLength="51.09" lengthAdjust="spacing" xml:space="preserve">[rpm]</text>
<text id="P1_tr" x="991.6" y="582.7" text-anchor="middle" fill="#000" stroke="#000" stroke-width="0.2" textLength="24.59" lengthAdjust="spacing" xml:space="preserve">P1</text>
<text id="kW_tr" x="991.7" y="606" text-anchor="middle" fill="#000" stroke="#000" stroke-width="0.2" textLength="42.86" lengthAdjust="spacing" xml:space="preserve">[kW]</text>
<text id="bl0" x="70.5" y="969.3" text-anchor="end" fill="#000" stroke="#000" stroke-width="0.2" xml:space="preserve">0</text>
<text id="br0" x="977.5" y="969.3" fill="#000" stroke="#000" stroke-width="0.2" xml:space="preserve">0.0</text>
<text id="bl1" x="70.5" y="889.6" text-anchor="end" fill="#000" stroke="#000" stroke-width="0.2" textLength="35.89" lengthAdjust="spacing" xml:space="preserve">400</text>
<text id="br1" x="977.5" y="889.6" fill="#000" stroke="#000" stroke-width="0.2" xml:space="preserve">0.2</text>
<text id="bl2" x="70.5" y="809.9" text-anchor="end" fill="#000" stroke="#000" stroke-width="0.2" xml:space="preserve">800</text>
<text id="br2" x="977.5" y="809.9" fill="#000" stroke="#000" stroke-width="0.2" xml:space="preserve">0.4</text>
<text id="bl3" x="70.5" y="730.2" text-anchor="end" fill="#000" stroke="#000" stroke-width="0.2" xml:space="preserve">1200</text>
<text id="br3" x="977.5" y="730.2" fill="#000" stroke="#000" stroke-width="0.2" xml:space="preserve">0.6</text>
<text id="bl4" x="70.5" y="650.5" text-anchor="end" fill="#000" stroke="#000" stroke-width="0.2" textLength="47.65" lengthAdjust="spacing" xml:space="preserve">1600</text>
<text id="br4" x="977.5" y="650.5" fill="#000" stroke="#000" stroke-width="0.2" textLength="29.26" lengthAdjust="spacing" xml:space="preserve">0.8</text>
<text id="n_lbl" x="893" y="634.7" fill="#064788" stroke="#064788" stroke-width="0.2" xml:space="preserve">n</text>
<text id="P1conv" x="714" y="701.9" fill="#000" stroke="#000" stroke-width="0.2" textLength="247.88" lengthAdjust="spacing" xml:space="preserve">P1 (motor+freq.converter)</text>
<text id="n100" x="89" y="998.1" fill="#000" stroke="#000" stroke-width="0.2" textLength="95.86" lengthAdjust="spacing" xml:space="preserve">n = 100 %</text>
</svg></body></html>
